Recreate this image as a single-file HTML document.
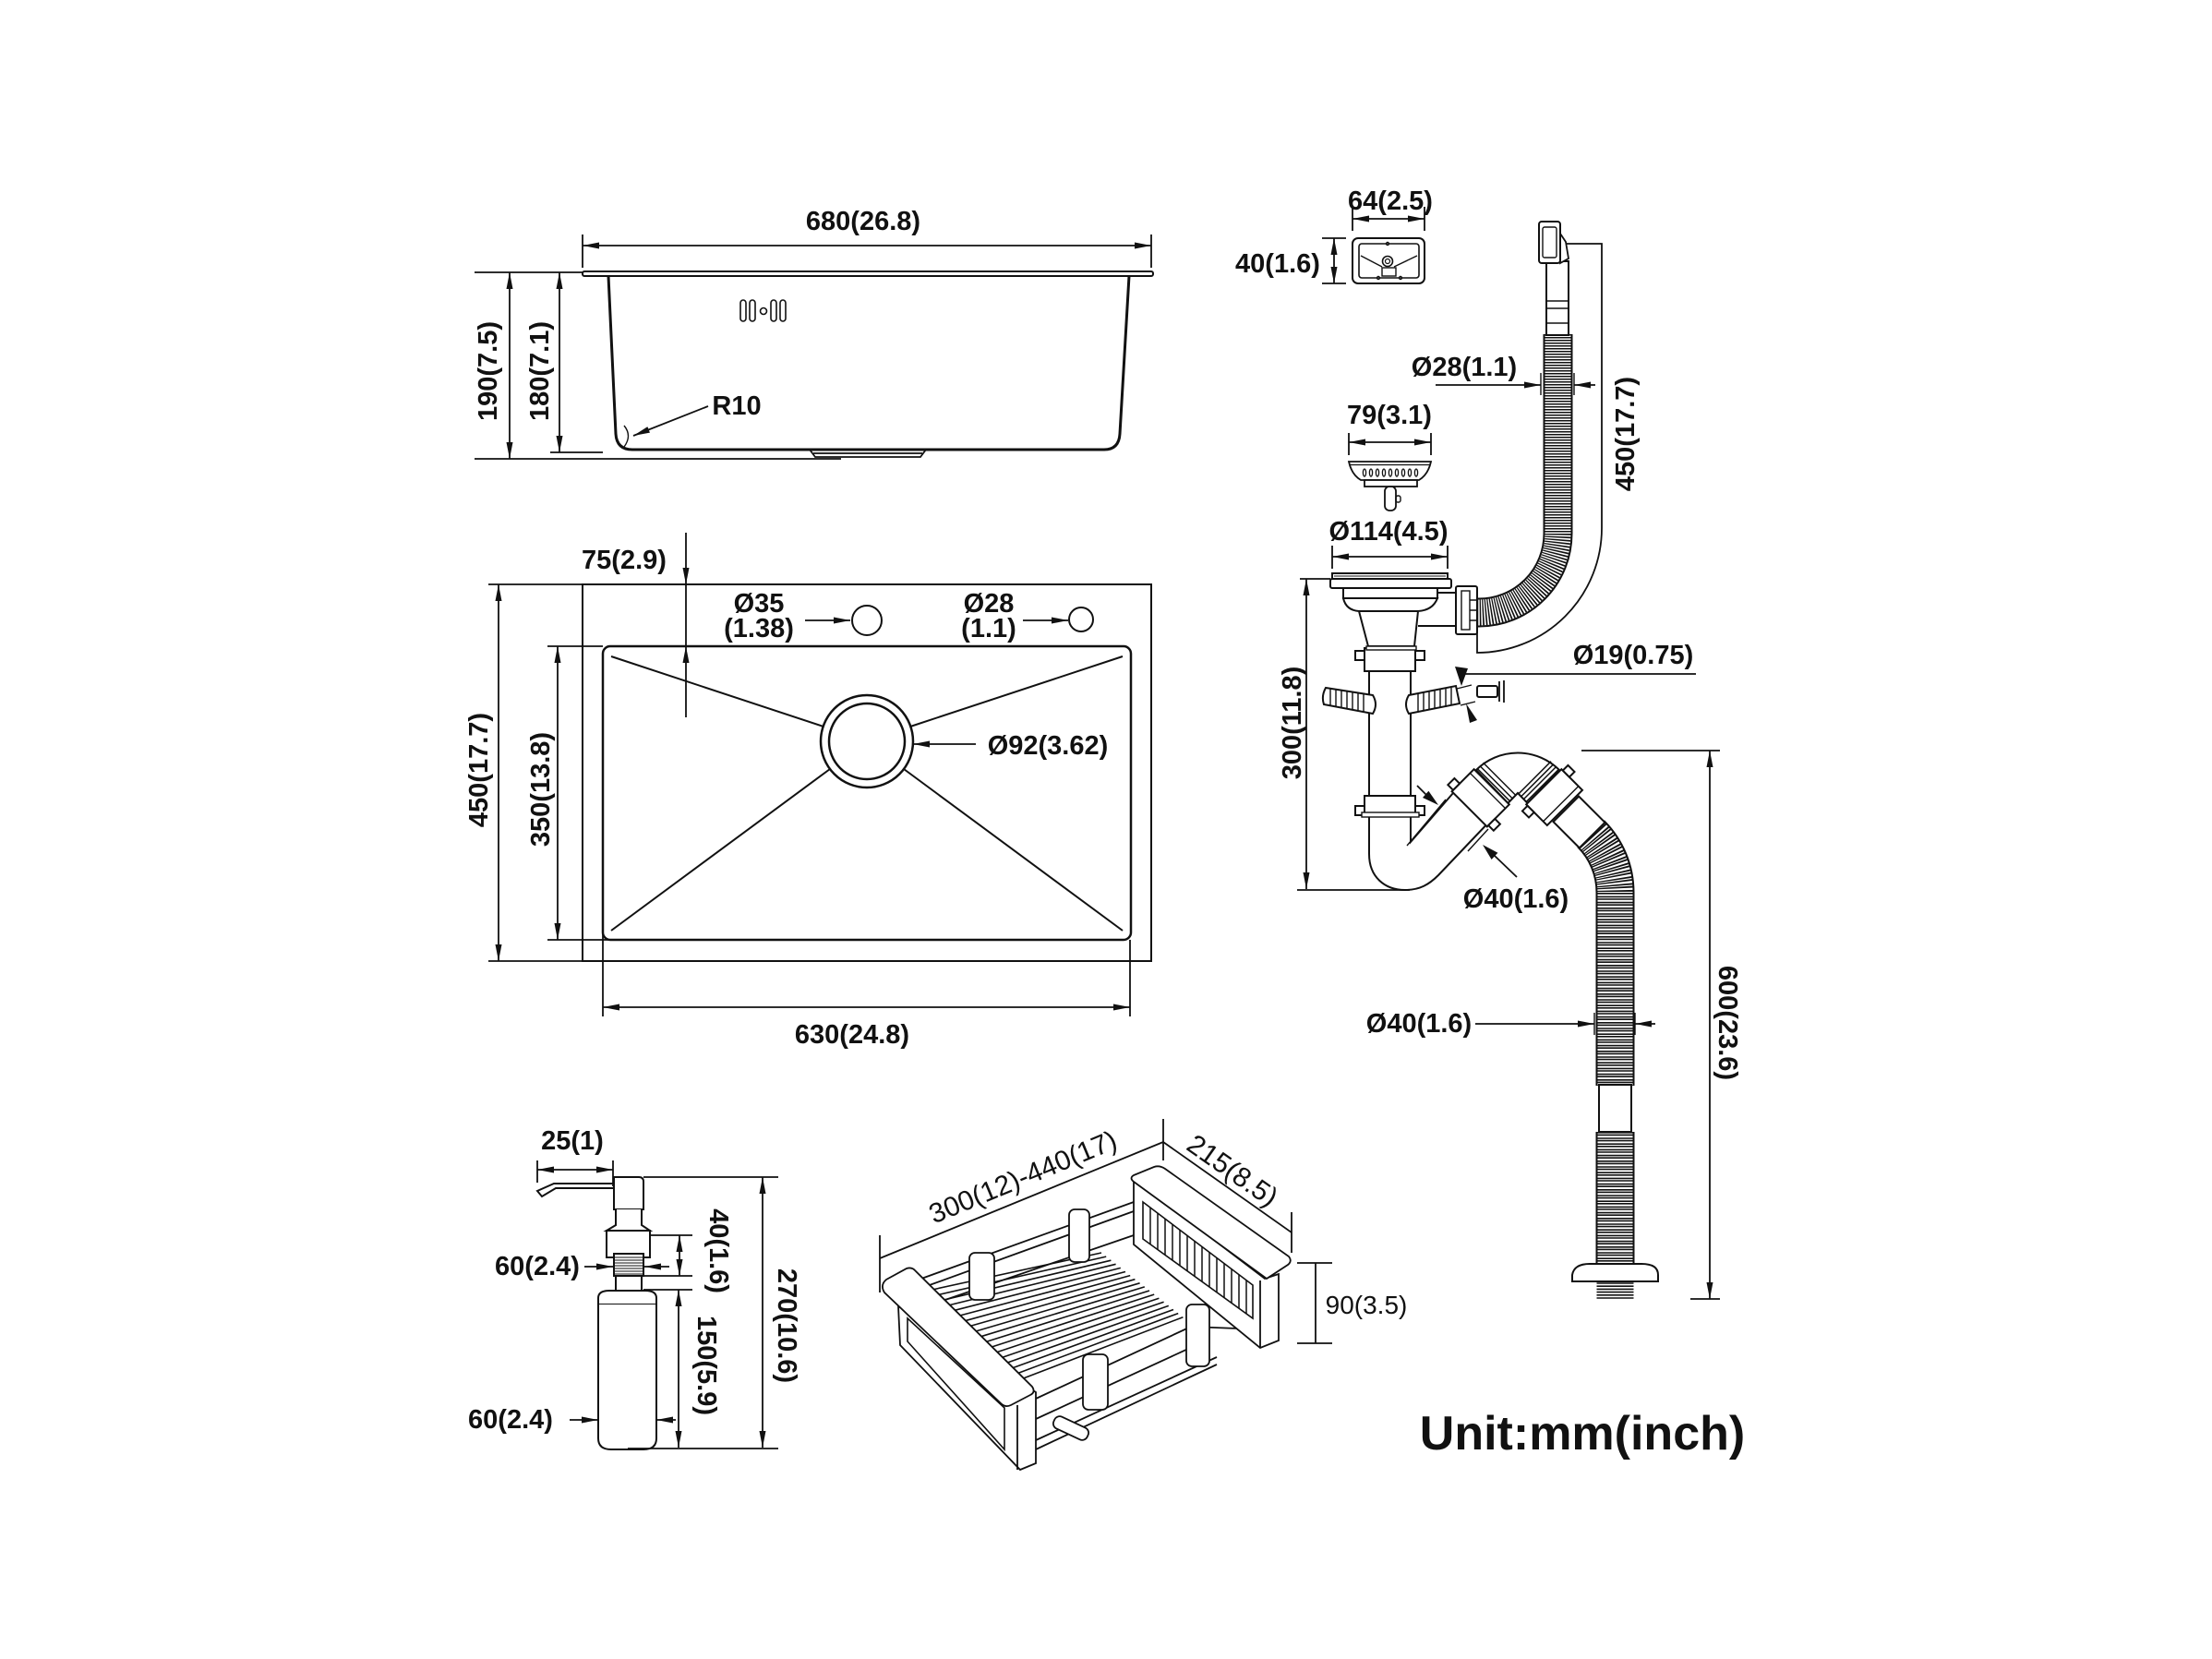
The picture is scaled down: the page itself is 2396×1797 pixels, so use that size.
<!DOCTYPE html>
<html><head><meta charset="utf-8"><style>
html,body{margin:0;padding:0;background:#fff;}
svg{display:block;}
text{font-family:"Liberation Sans",Arial,sans-serif;fill:#111;}
.b{font-weight:bold;font-size:29px;}
.r{font-weight:normal;font-size:30px;}
</style></head><body>
<svg width="2396" height="1797" viewBox="0 0 2396 1797" xmlns="http://www.w3.org/2000/svg">
<defs>
<marker id="ar" viewBox="0 0 18 8" refX="18" refY="4" markerWidth="18" markerHeight="8" markerUnits="userSpaceOnUse" orient="auto-start-reverse"><path d="M0,0.5 L18,4 L0,7.5 Z" fill="#111"/></marker>
</defs>
<rect width="2396" height="1797" fill="#fff"/>

<!-- ============ SIDE VIEW ============ -->
<g fill="none" stroke="#111">
<rect x="631" y="294" width="618" height="5" rx="2" stroke-width="2"/>
<path d="M659,299 L667,470 Q668,487 685,487 L1196,487 Q1212,487 1213,470 L1223,299" stroke-width="3"/>
<path d="M877,487 L883,495 L997,495 L1003,487 M881,491 L999,491" stroke-width="1.8"/>
<rect x="802" y="325" width="6" height="23" rx="3" stroke-width="1.6"/>
<rect x="812" y="325" width="6" height="23" rx="3" stroke-width="1.6"/>
<circle cx="827" cy="337" r="3.5" stroke-width="1.6"/>
<rect x="835" y="325" width="6" height="23" rx="3" stroke-width="1.6"/>
<rect x="845" y="325" width="6" height="23" rx="3" stroke-width="1.6"/>
<path d="M676,461 Q685,472 676,484" stroke-width="1.4"/>
<g stroke-width="1.8">
<line x1="631" y1="266" x2="1247" y2="266" marker-start="url(#ar)" marker-end="url(#ar)"/>
<line x1="631" y1="254" x2="631" y2="290"/>
<line x1="1247" y1="254" x2="1247" y2="290"/>
<line x1="514" y1="295" x2="631" y2="295"/>
<line x1="514" y1="497" x2="911" y2="497"/>
<line x1="596" y1="490" x2="653" y2="490"/>
<line x1="552" y1="295" x2="552" y2="497" marker-start="url(#ar)" marker-end="url(#ar)"/>
<line x1="606" y1="295" x2="606" y2="490" marker-start="url(#ar)" marker-end="url(#ar)"/>
<line x1="767" y1="440" x2="686" y2="472" marker-end="url(#ar)"/>
</g>
</g>
<text class="b" x="935" y="249" text-anchor="middle">680(26.8)</text>
<text class="b" x="798" y="449" text-anchor="middle">R10</text>
<text class="b" transform="translate(528,402) rotate(-90)" x="0" y="10" text-anchor="middle">190(7.5)</text>
<text class="b" transform="translate(584,402) rotate(-90)" x="0" y="10" text-anchor="middle">180(7.1)</text>

<!-- ============ TOP VIEW ============ -->
<g fill="none" stroke="#111">
<rect x="631" y="633" width="616" height="408" stroke-width="2"/>
<rect x="653" y="700" width="572" height="318" rx="8" stroke-width="2.5"/>
<g stroke-width="2">
<line x1="662" y1="711" x2="892" y2="787"/>
<line x1="1216" y1="711" x2="986" y2="787"/>
<line x1="662" y1="1008" x2="899" y2="833"/>
<line x1="1216" y1="1008" x2="979" y2="833"/>
</g>
<circle cx="939" cy="803" r="50" stroke-width="2.5" fill="#fff"/>
<circle cx="939" cy="803" r="41" stroke-width="2.5"/>
<circle cx="939" cy="672" r="16" stroke-width="2"/>
<circle cx="1171" cy="671" r="13" stroke-width="2"/>
<g stroke-width="1.8">
<line x1="872" y1="672" x2="921" y2="672" marker-end="url(#ar)"/>
<line x1="1108" y1="672" x2="1157" y2="672" marker-end="url(#ar)"/>
<line x1="1057" y1="806" x2="989" y2="806" marker-end="url(#ar)"/>
<line x1="743" y1="577" x2="743" y2="633" marker-end="url(#ar)"/>
<line x1="743" y1="777" x2="743" y2="700" marker-end="url(#ar)"/>
<line x1="743" y1="633" x2="743" y2="700"/>
<line x1="540" y1="633" x2="540" y2="1041" marker-start="url(#ar)" marker-end="url(#ar)"/>
<line x1="529" y1="633" x2="631" y2="633"/>
<line x1="529" y1="1041" x2="631" y2="1041"/>
<line x1="604" y1="700" x2="604" y2="1018" marker-start="url(#ar)" marker-end="url(#ar)"/>
<line x1="593" y1="700" x2="653" y2="700"/>
<line x1="593" y1="1018" x2="757" y2="1018"/>
<line x1="653" y1="1091" x2="1224" y2="1091" marker-start="url(#ar)" marker-end="url(#ar)"/>
<line x1="653" y1="1006" x2="653" y2="1101"/>
<line x1="1224" y1="1018" x2="1224" y2="1101"/>
</g>
</g>
<text class="b" x="676" y="616" text-anchor="middle">75(2.9)</text>
<text class="b" x="822" y="663" text-anchor="middle">Ø35</text>
<text class="b" x="822" y="690" text-anchor="middle">(1.38)</text>
<text class="b" x="1071" y="663" text-anchor="middle">Ø28</text>
<text class="b" x="1071" y="690" text-anchor="middle">(1.1)</text>
<text class="b" x="1135" y="817" text-anchor="middle">Ø92(3.62)</text>
<text class="b" x="923" y="1130" text-anchor="middle">630(24.8)</text>
<text class="b" transform="translate(518,834) rotate(-90)" x="0" y="10" text-anchor="middle">450(17.7)</text>
<text class="b" transform="translate(585,855) rotate(-90)" x="0" y="10" text-anchor="middle">350(13.8)</text>

<!-- ============ OVERFLOW COVER / STRAINER ============ -->
<g fill="none" stroke="#111">
<rect x="1465" y="258" width="78" height="49" rx="6" stroke-width="2"/>
<rect x="1472" y="264" width="65" height="37" rx="3" stroke-width="1.6"/>
<path d="M1474,277 L1497,289 M1535,277 L1510,289" stroke-width="1.4"/>
<circle cx="1503" cy="283" r="5.5" stroke-width="1.6"/>
<circle cx="1503" cy="283" r="2.5" stroke-width="1.2"/>
<rect x="1497" y="290" width="15" height="9" stroke-width="1.4"/>
<circle cx="1503" cy="264" r="1.6" stroke-width="1.2"/>
<circle cx="1493" cy="301" r="1.6" stroke-width="1.2"/>
<circle cx="1517" cy="301" r="1.6" stroke-width="1.2"/>
<g stroke-width="1.8">
<line x1="1465" y1="237" x2="1543" y2="237" marker-start="url(#ar)" marker-end="url(#ar)"/>
<line x1="1465" y1="224" x2="1465" y2="250"/>
<line x1="1543" y1="224" x2="1543" y2="250"/>
<line x1="1445" y1="258" x2="1445" y2="307" marker-start="url(#ar)" marker-end="url(#ar)"/>
<line x1="1432" y1="258" x2="1458" y2="258"/>
<line x1="1432" y1="307" x2="1458" y2="307"/>
<line x1="1461" y1="479" x2="1550" y2="479" marker-start="url(#ar)" marker-end="url(#ar)"/>
<line x1="1461" y1="469" x2="1461" y2="493"/>
<line x1="1550" y1="469" x2="1550" y2="493"/>
<line x1="1443" y1="603" x2="1568" y2="603" marker-start="url(#ar)" marker-end="url(#ar)"/>
<line x1="1443" y1="591" x2="1443" y2="616"/>
<line x1="1568" y1="591" x2="1568" y2="616"/>
</g>
<path d="M1461,500 L1550,500 Q1547,514 1537,520 L1474,520 Q1464,514 1461,500 Z" stroke-width="1.8" fill="#fff"/>
<line x1="1462" y1="503.5" x2="1549" y2="503.5" stroke-width="1.2"/>
<g stroke-width="1.3">
<ellipse cx="1478" cy="512" rx="1.6" ry="4"/><ellipse cx="1485" cy="512" rx="1.6" ry="4"/><ellipse cx="1492" cy="512" rx="1.6" ry="4"/><ellipse cx="1499" cy="512" rx="1.6" ry="4"/><ellipse cx="1506" cy="512" rx="1.6" ry="4"/><ellipse cx="1513" cy="512" rx="1.6" ry="4"/><ellipse cx="1520" cy="512" rx="1.6" ry="4"/><ellipse cx="1527" cy="512" rx="1.6" ry="4"/><ellipse cx="1534" cy="512" rx="1.6" ry="4"/>
</g>
<rect x="1478" y="520" width="57" height="7" stroke-width="1.8" fill="#fff"/>
<rect x="1500" y="527" width="12" height="26" rx="5" stroke-width="1.8"/>
<rect x="1512" y="537" width="5" height="7" rx="2" stroke-width="1.4"/>
</g>
<text class="b" x="1506" y="227" text-anchor="middle">64(2.5)</text>
<text class="b" x="1384" y="295" text-anchor="middle">40(1.6)</text>
<text class="b" x="1505" y="459" text-anchor="middle">79(3.1)</text>
<text class="b" x="1504" y="585" text-anchor="middle">Ø114(4.5)</text>

<!-- ============ UPPER HOSE (450) ============ -->
<g fill="none">
<path d="M1687.5,362 L1687.5,578 A85.5,85.5 0 0 1 1602,663.5 L1598,663.5" stroke="#111" stroke-width="32"/>
<path d="M1687.5,362 L1687.5,578 A85.5,85.5 0 0 1 1602,663.5 L1598,663.5" stroke="#fff" stroke-width="28"/>
<path d="M1687.5,362 L1687.5,578 A85.5,85.5 0 0 1 1602,663.5 L1598,663.5" stroke="#111" stroke-width="28" stroke-dasharray="1.5 1.5"/>
</g>
<g fill="#fff" stroke="#111">
<rect x="1675" y="283" width="24" height="80" stroke-width="2"/>
<line x1="1675" y1="326" x2="1699" y2="326" stroke-width="1.6"/>
<line x1="1675" y1="334" x2="1699" y2="334" stroke-width="1.6"/>
<line x1="1675" y1="350" x2="1699" y2="350" stroke-width="1.4"/>
<path d="M1688,250 L1696,262 L1699,280 L1690,285 Z" stroke-width="1.8"/>
<rect x="1667" y="240" width="23" height="45" rx="3" stroke-width="2"/>
<rect x="1671" y="246" width="15" height="33" rx="2" stroke-width="1.4"/>
<line x1="1669" y1="404" x2="1669" y2="428" stroke-width="1.4"/>
<line x1="1705" y1="404" x2="1705" y2="428" stroke-width="1.4"/>
</g>
<g fill="none" stroke="#111" stroke-width="1.8">
<line x1="1555" y1="417" x2="1669" y2="417" marker-end="url(#ar)"/>
<line x1="1728" y1="417" x2="1705" y2="417" marker-end="url(#ar)"/>
<path d="M1697,264 L1735,264 L1735,572 A135,135 0 0 1 1600,707 L1600,680"/>
</g>
<text class="b" x="1586" y="407" text-anchor="middle">Ø28(1.1)</text>
<text class="b" transform="translate(1760,470) rotate(-90)" x="0" y="10" text-anchor="middle">450(17.7)</text>

<!-- ============ STRAINER BODY / TRAP ============ -->
<g fill="#fff" stroke="#111" stroke-width="2">
<rect x="1443" y="621" width="125" height="6"/>
<line x1="1445" y1="624" x2="1566" y2="624" stroke-width="1"/>
<rect x="1441" y="627" width="131" height="10" rx="2"/>
<path d="M1557,642 L1577,642 L1577,678 L1536,678"/>
<rect x="1455" y="637" width="102" height="11"/>
<path d="M1455,648 Q1458,661 1472,662 L1482,700 L1532,700 L1536,662 Q1552,661 1557,648 Z"/>
<line x1="1472" y1="662" x2="1536" y2="662"/>
<rect x="1577" y="635" width="23" height="52" rx="2"/>
<rect x="1583" y="640" width="9" height="42" stroke-width="1.4"/>
<path d="M1592,650 L1600,650 M1592,661 L1600,661 M1592,672 L1600,672" stroke-width="1.4"/>
<rect x="1483" y="725" width="45" height="140"/>
<rect x="1478" y="702" width="55" height="25"/>
<rect x="1468" y="705" width="10" height="10"/>
<rect x="1533" y="705" width="10" height="10"/>
<rect x="1480" y="700" width="54" height="4" stroke-width="1.4"/>
<path d="M1487,753 L1436,745 Q1431,754 1434,763 L1487,773 Q1493,763 1487,753 Z"/>
<path d="M1526,753 L1577,743 L1581,762 L1526,773 Q1520,763 1526,753 Z"/>
<g stroke-width="1.4">
<path d="M1441,746 L1441,764 M1447,747 L1447,765 M1453,748 L1453,766 M1459,749 L1459,767 M1465,750 L1465,768 M1471,751 L1471,769 M1477,752 L1477,771"/>
<path d="M1536,751 L1536,771 M1542,750 L1542,770 M1548,749 L1548,769 M1554,748 L1554,768 M1560,747 L1560,767 M1566,746 L1566,766 M1572,745 L1572,764"/>
</g>
<rect x="1600" y="743" width="22" height="12" rx="2"/>
<path d="M1624,738 L1624,760 M1629,737 L1629,761" stroke-width="1.8"/>
<rect x="1478" y="862" width="55" height="20"/>
<rect x="1468" y="873" width="10" height="10"/>
<rect x="1533" y="873" width="10" height="10"/>
<rect x="1475" y="880" width="62" height="5" stroke-width="1.4"/>
</g>
<g fill="none" stroke="#111" stroke-width="2">
<path d="M1483,885 L1483,925 C1483,950 1500,964 1522,964 C1538,964 1548,958 1558,948 L1609.4,894"/>
<path d="M1528,885 L1528,912 L1574,859"/>
</g>
<g fill="none">
<path d="M1723.2,903.2 A89.8,89.8 0 0 1 1749.5,966.7 L1749.5,1176" stroke="#111" stroke-width="42"/>
<path d="M1723.2,903.2 A89.8,89.8 0 0 1 1749.5,966.7 L1749.5,1176" stroke="#fff" stroke-width="38"/>
<path d="M1723.2,903.2 A89.8,89.8 0 0 1 1749.5,966.7 L1749.5,1176" stroke="#111" stroke-width="40" stroke-dasharray="1.6 1 1.6 2"/>
<path d="M1749.5,1226 L1749.5,1370" stroke="#111" stroke-width="42"/>
<path d="M1749.5,1226 L1749.5,1370" stroke="#fff" stroke-width="38"/>
<path d="M1749.5,1226 L1749.5,1370" stroke="#111" stroke-width="40" stroke-dasharray="1.6 1 1.6 2"/>
<path d="M1749.5,1386 L1749.5,1407" stroke="#111" stroke-width="40" stroke-dasharray="1.6 1.6"/>
</g>
<g fill="#fff" stroke="#111" stroke-width="2">
<rect x="1732" y="1175" width="35" height="51"/>
<path d="M1703,1388 L1703,1381 Q1705,1369 1722,1369 L1778,1369 Q1796,1369 1796,1381 L1796,1388 Z"/>
</g>
<g fill="#fff" stroke="#111" stroke-width="2">
<path d="M1599,834 A64,64 0 0 1 1689,834 L1654.6,870 L1644,859 L1633.4,870 Z"/>
<g transform="translate(1644,824) rotate(135)">
<path d="M28,-25 L28,25 M33,-25 L33,25 M37,-25 L37,25" stroke-width="1.5"/>
<rect x="40" y="-27" width="34" height="54"/>
<line x1="46" y1="-27" x2="46" y2="27" stroke-width="1.4"/>
<rect x="62" y="-35" width="10" height="8"/>
<rect x="62" y="27" width="10" height="8"/>
</g>
<g transform="translate(1644,824) rotate(45)">
<rect x="74" y="-19.5" width="40" height="39"/>
<path d="M26,-25 L26,25 M30,-25 L30,25 M34,-25 L34,25 M38,-25 L38,25" stroke-width="1.5"/>
<rect x="40" y="-27" width="32" height="54"/>
<line x1="66" y1="-27" x2="66" y2="27" stroke-width="1.4"/>
<rect x="42" y="-35" width="10" height="8"/>
<rect x="42" y="27" width="10" height="8"/>
</g>
</g>
<g fill="none" stroke="#111" stroke-width="1.8">
<line x1="1415" y1="627" x2="1415" y2="963" marker-start="url(#ar)" marker-end="url(#ar)"/>
<line x1="1408" y1="627" x2="1441" y2="627"/>
<line x1="1405" y1="964" x2="1527" y2="964"/>
<line x1="1583" y1="730" x2="1837" y2="730"/>
<path d="M1578,746 L1594,742 M1582,764 L1598,760" stroke-width="1.4"/>
<path d="M1524,916 L1566,866 M1590,922 L1612,898" stroke-width="1.4"/>
<line x1="1535" y1="851" x2="1545" y2="861"/>
<line x1="1643" y1="950" x2="1619" y2="927"/>
<line x1="1713" y1="813" x2="1863" y2="813"/>
<line x1="1852" y1="813" x2="1852" y2="1407" marker-start="url(#ar)" marker-end="url(#ar)"/>
<line x1="1831" y1="1407" x2="1863" y2="1407"/>
<line x1="1598" y1="1109" x2="1727" y2="1109" marker-end="url(#ar)"/>
<line x1="1793" y1="1109" x2="1771" y2="1109" marker-end="url(#ar)"/>
<path d="M1727,1097 L1727,1121 M1771,1097 L1771,1121" stroke-width="1.4"/>
</g>
<g fill="#111">
<polygon points="1576,722 1590,724 1583,743"/>
<polygon points="1588,762 1592,783 1600,780"/>
<polygon points="1558,872 1541,864 1547.4,856.7"/>
<polygon points="1606,915 1622.4,923.8 1615.6,931"/>
</g>
<text class="b" x="1769" y="719" text-anchor="middle">Ø19(0.75)</text>
<text class="b" x="1642" y="983" text-anchor="middle">Ø40(1.6)</text>
<text class="b" x="1537" y="1118" text-anchor="middle">Ø40(1.6)</text>
<text class="b" transform="translate(1399,783) rotate(-90)" x="0" y="10" text-anchor="middle">300(11.8)</text>
<text class="b" transform="translate(1872,1108) rotate(90)" x="0" y="10" text-anchor="middle">600(23.6)</text>

<!-- ============ SOAP DISPENSER ============ -->
<g fill="#fff" stroke="#111" stroke-width="2">
<path d="M582,1290 L587,1296 L602,1287 L665,1287 L665,1282 L600,1282 Z"/>
<path d="M665,1275 L692,1275 Q697,1275 697,1280 L697,1310 L665,1310 Z"/>
<path d="M667,1310 L667,1327 L657,1333 L704,1333 L695,1327 L695,1310"/>
<rect x="657" y="1333" width="47" height="29"/>
<rect x="665" y="1358" width="32" height="24"/>
<path d="M666,1362 H696 M666,1365 H696 M666,1368 H696 M666,1371 H696 M666,1374 H696 M666,1377 H696 M666,1380 H696" stroke-width="1.1"/>
<rect x="667" y="1382" width="28" height="16"/>
<path d="M648,1413 L648,1406 Q648,1398 660,1398 L699,1398 Q711,1398 711,1406 L711,1413 Z"/>
<path d="M648,1413 L648,1558 Q648,1570 662,1570 L697,1570 Q711,1570 711,1558 L711,1413"/>
</g>
<g fill="none" stroke="#111" stroke-width="1.8">
<line x1="582" y1="1267" x2="664" y2="1267" marker-start="url(#ar)" marker-end="url(#ar)"/>
<line x1="582" y1="1257" x2="582" y2="1281"/>
<line x1="664" y1="1257" x2="664" y2="1285"/>
<line x1="736" y1="1338" x2="736" y2="1382" marker-start="url(#ar)" marker-end="url(#ar)"/>
<line x1="704" y1="1338" x2="750" y2="1338"/>
<line x1="697" y1="1382" x2="750" y2="1382"/>
<line x1="633" y1="1372" x2="664" y2="1372" marker-end="url(#ar)"/>
<line x1="725" y1="1372" x2="698" y2="1372" marker-end="url(#ar)"/>
<line x1="735" y1="1397" x2="735" y2="1568" marker-start="url(#ar)" marker-end="url(#ar)"/>
<line x1="697" y1="1397" x2="750" y2="1397"/>
<line x1="826" y1="1275" x2="826" y2="1568" marker-start="url(#ar)" marker-end="url(#ar)"/>
<line x1="697" y1="1275" x2="843" y2="1275"/>
<line x1="680" y1="1569" x2="843" y2="1569"/>
<line x1="617" y1="1538" x2="648" y2="1538" marker-end="url(#ar)"/>
<line x1="732" y1="1538" x2="711" y2="1538" marker-end="url(#ar)"/>
</g>
<text class="b" x="620" y="1245" text-anchor="middle">25(1)</text>
<text class="b" x="582" y="1381" text-anchor="middle">60(2.4)</text>
<text class="b" x="553" y="1547" text-anchor="middle">60(2.4)</text>
<text class="b" transform="translate(779,1355) rotate(90)" x="0" y="10" text-anchor="middle">40(1.6)</text>
<text class="b" transform="translate(766,1479) rotate(90)" x="0" y="10" text-anchor="middle">150(5.9)</text>
<text class="b" transform="translate(853,1436) rotate(90)" x="0" y="10" text-anchor="middle">270(10.6)</text>

<!-- ============ BASKET ============ -->
<g fill="none" stroke="#111" stroke-width="1.8">
<line x1="953" y1="1363" x2="1260" y2="1237"/>
<line x1="953" y1="1338" x2="953" y2="1400"/>
<line x1="1260" y1="1212" x2="1260" y2="1257"/>
<line x1="1260" y1="1237" x2="1399" y2="1335"/>
<line x1="1399" y1="1313" x2="1399" y2="1357"/>
<line x1="1425" y1="1368" x2="1425" y2="1455"/>
<line x1="1405" y1="1368" x2="1443" y2="1368"/>
<line x1="1405" y1="1455" x2="1443" y2="1455"/>
<line x1="998" y1="1385" x2="1228" y2="1302"/>
<line x1="1004" y1="1393" x2="1228" y2="1312"/>
<line x1="1018" y1="1410" x2="1228" y2="1338"/>
<line x1="1122" y1="1515" x2="1290" y2="1437"/>
<line x1="1122" y1="1537" x2="1300" y2="1455"/>
<line x1="1122" y1="1560" x2="1318" y2="1470"/>
<line x1="1122" y1="1570" x2="1318" y2="1478"/>
<line x1="1290" y1="1437" x2="1365" y2="1440"/>
<g stroke-width="1.6">
<line x1="1005" y1="1398" x2="1193" y2="1357"/>
<line x1="1010.8" y1="1403.7" x2="1198.2" y2="1361.1"/>
<line x1="1016.6" y1="1409.4" x2="1203.4" y2="1365.2"/>
<line x1="1022.4" y1="1415.1" x2="1208.6" y2="1369.3"/>
<line x1="1028.2" y1="1420.8" x2="1213.8" y2="1373.4"/>
<line x1="1034" y1="1426.5" x2="1219" y2="1377.5"/>
<line x1="1039.8" y1="1432.2" x2="1224.2" y2="1381.6"/>
<line x1="1045.6" y1="1437.9" x2="1229.4" y2="1385.7"/>
<line x1="1051.4" y1="1443.6" x2="1234.6" y2="1389.8"/>
<line x1="1057.2" y1="1449.3" x2="1239.8" y2="1393.9"/>
<line x1="1063" y1="1455" x2="1245" y2="1398"/>
<line x1="1068.8" y1="1460.7" x2="1250.2" y2="1402.1"/>
<line x1="1074.6" y1="1466.4" x2="1255.4" y2="1406.2"/>
<line x1="1080.4" y1="1472.1" x2="1260.6" y2="1410.3"/>
<line x1="1086.2" y1="1477.8" x2="1265.8" y2="1414.4"/>
<line x1="1092" y1="1483.5" x2="1271" y2="1418.5"/>
<line x1="1097.8" y1="1489.2" x2="1276.2" y2="1422.6"/>
<line x1="1103.6" y1="1494.9" x2="1281.4" y2="1426.7"/>
</g>
</g>
<g fill="#fff" stroke="#111" stroke-width="1.8">
<rect x="1050" y="1357" width="27" height="51" rx="6"/>
<rect x="1158" y="1310" width="22" height="57" rx="6"/>
<rect x="1285" y="1413" width="25" height="67" rx="6"/>
<rect x="1173" y="1467" width="27" height="60" rx="6"/>
<rect x="1140" y="1540" width="40" height="14" rx="6" transform="rotate(25 1160 1547)"/>
<path d="M1228,1277 L1228,1348 L1365,1460 L1385,1452 L1385,1380 L1370,1385 L1228,1277 Z"/>
<path d="M1238,1302 L1357,1392 L1357,1428 L1238,1342 Z" stroke-width="1.6"/>
<path d="M1246,1308 V1347.8 M1254,1314.1 V1353.6 M1262,1320.1 V1359.4 M1270,1326.2 V1365.1 M1278,1332.2 V1370.9 M1286,1338.3 V1376.7 M1294,1344.3 V1382.5 M1302,1350.4 V1388.3 M1310,1356.4 V1394.1 M1318,1362.5 V1399.8 M1326,1368.5 V1405.6 M1334,1374.6 V1411.4 M1342,1380.6 V1417.2 M1350,1386.7 V1423" stroke-width="1.5"/>
<line x1="1365" y1="1387" x2="1365" y2="1460"/>
<path d="M1228,1273 L1250,1264 Q1256,1262 1262,1266 L1396,1361 Q1400,1366 1395,1370 L1372,1385 L1228,1280 Q1223,1276 1228,1273 Z"/>
<path d="M973,1415 L975,1457 L1105,1592 L1122,1585 L1122,1508 Z"/>
<path d="M983,1428 L983,1453 L1088,1570 L1088,1525 Z" stroke-width="1.6"/>
<line x1="1102" y1="1522" x2="1102" y2="1592"/>
<path d="M960,1386 L982,1374 Q988,1372 992,1377 L1118,1502 Q1122,1508 1116,1511 L1095,1522 Q1089,1525 1084,1520 L958,1400 Q953,1392 960,1386 Z"/>
</g>
<text class="r" transform="translate(1108,1275) rotate(-22.5)" x="0" y="10" text-anchor="middle">300(12)-440(17)</text>
<text class="r" transform="translate(1335,1268) rotate(35)" x="0" y="10" text-anchor="middle">215(8.5)</text>
<text class="r" x="1480" y="1423" text-anchor="middle" style="font-size:28px">90(3.5)</text>

<text x="1714" y="1570" text-anchor="middle" style="font-weight:bold;font-size:52px">Unit:mm(inch)</text>
</svg>
</body></html>
